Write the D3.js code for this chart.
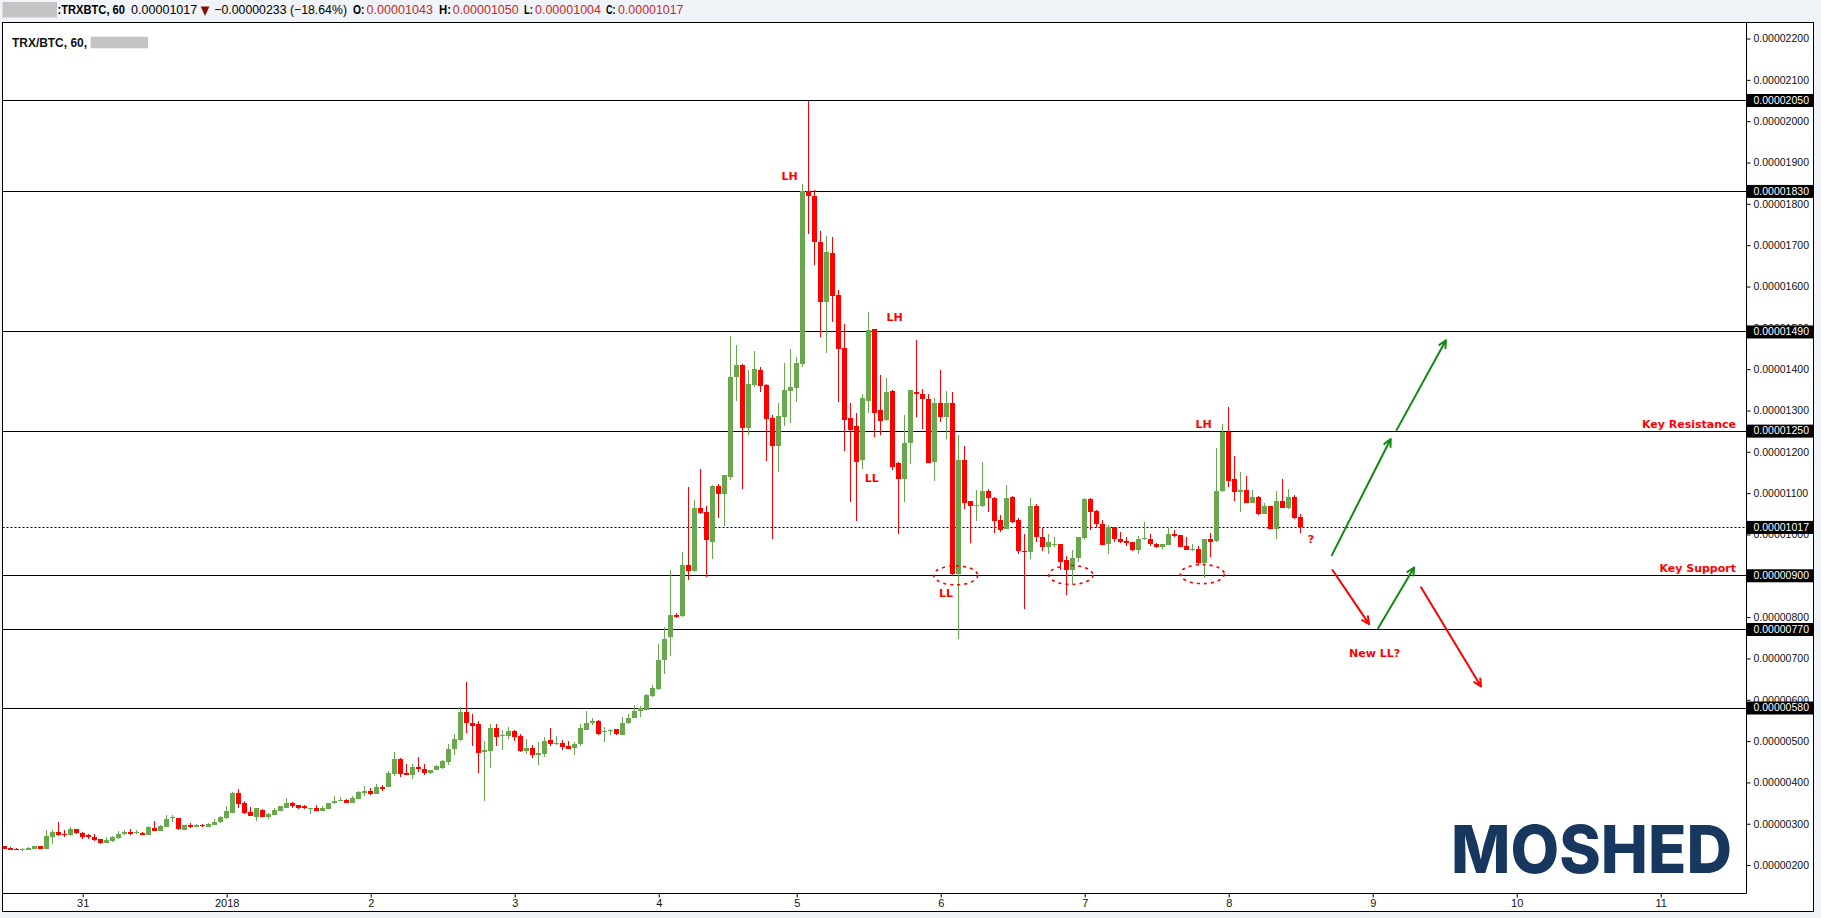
<!DOCTYPE html>
<html><head><meta charset="utf-8">
<script src="https://cdn.jsdelivr.net/npm/d3@7"></script>
<style>
body{margin:0;background:#f0f3f7;}
svg{display:block;}
</style>
</head><body>
<svg id="chart" width="1821" height="918"></svg>
<script>
// Prices are in satoshi units (1e-8 BTC). Hourly TRX/BTC bars, Dec 30 11:00 -> Jan 8 11:00 (one hour missing on Jan 4).
const opens = [245,241,240,237,237,240,246,240,269,280,276,273,287,278,272,269,263,253,258,266,275,280,277,278,273,290,283,293,315,314,285,298,293,298,293,298,303,313,327,375,351,328,317,334,317,320,332,339,349,345,342,337,339,332,336,349,357,358,349,361,374,379,373,390,388,421,457,423,417,438,433,423,430,435,450,480,502,571,544,541,474,477,531,513,513,525,513,476,484,466,468,503,493,496,489,484,492,528,543,549,521,525,529,515,543,557,572,576,610,626,695,751,806,803,925,911,1063,1054,982,1117,1097,1139,1380,1410,1258,1361,1398,1361,1282,1214,1284,1348,1355,1413,1831,1819,1707,1563,1681,1579,1451,1282,1262,1180,1323,1497,1300,1277,1347,1172,1133,1221,1344,1339,1327,1176,1319,1285,1318,905,1179,1080,1070,1068,1104,1088,1034,1013,1090,1034,961,957,1068,995,969,976,976,937,914,943,992,1085,1056,1026,976,1017,990,983,981,962,990,990,977,969,974,1000,998,971,963,964,930,988,983,1104,1249,1133,1103,1107,1076,1090,1049,1069,1014,1080,1064,1090,1043];
const highs = [246,243,241,241,243,247,247,285,285,304,285,292,288,281,275,275,264,268,271,282,285,287,285,280,294,306,297,321,321,315,298,302,299,300,301,311,318,343,378,384,354,340,339,336,325,337,344,363,353,346,345,339,345,342,351,367,364,359,366,380,392,386,396,393,427,474,458,444,444,462,444,431,441,455,492,516,582,642,565,549,500,541,541,527,533,526,517,505,490,497,509,531,513,503,500,497,542,572,555,550,533,530,530,559,565,588,586,615,636,735,776,915,809,957,1115,1084,1159,1070,1119,1121,1145,1479,1459,1412,1397,1444,1405,1365,1290,1318,1415,1449,1429,1849,2050,1833,1735,1723,1720,1592,1509,1319,1295,1339,1538,1498,1387,1379,1349,1176,1289,1349,1471,1351,1339,1330,1397,1347,1345,1241,1213,1081,1107,1175,1109,1090,1048,1119,1092,1039,1000,1087,1074,1015,1002,995,977,947,963,993,1087,1087,1058,1034,1023,1019,1006,994,982,997,1030,1000,980,977,1017,1011,999,993,977,973,988,1004,1209,1268,1308,1189,1150,1141,1108,1092,1076,1070,1104,1133,1109,1095,1050];
const lows = [238,236,237,235,236,239,239,240,251,270,268,271,275,264,264,259,251,253,256,264,272,273,276,272,273,283,283,291,303,285,284,290,292,293,292,297,302,311,327,339,324,318,307,317,312,320,331,339,339,335,336,324,331,331,335,348,355,349,349,360,366,369,373,380,388,416,414,417,409,424,419,420,429,433,443,466,500,520,488,423,355,436,489,479,504,500,474,469,460,441,461,489,491,479,481,466,489,526,540,515,497,514,514,514,542,556,559,575,607,624,663,705,799,801,889,909,1050,897,940,1039,1020,1131,1324,1111,1241,1358,1345,1178,990,1150,1263,1270,1321,1406,1726,1652,1477,1439,1514,1321,1202,1079,1033,1159,1295,1235,1241,1275,1157,1001,1079,1171,1284,1256,1172,1130,1271,1231,900,747,1061,979,1032,1066,1054,1003,1006,1013,1028,953,819,940,981,959,952,969,914,853,880,933,987,1010,1016,974,952,981,979,972,959,953,987,972,967,964,974,994,969,962,961,925,894,945,981,1103,1115,1081,1054,1076,1076,1048,1049,1013,989,1064,1062,1038,1004];
const closes = [240,237,238,240,242,246,240,270,280,272,274,287,278,269,267,261,253,260,268,276,280,275,279,273,291,283,295,312,317,288,297,291,298,294,300,305,317,332,375,348,325,319,337,317,323,334,342,349,343,338,337,338,332,339,350,356,358,349,363,376,380,372,389,384,423,457,421,417,438,432,423,431,439,452,481,506,571,544,537,471,479,531,511,514,525,511,476,484,466,471,501,493,496,486,481,494,531,544,549,517,525,528,518,544,557,572,580,612,629,695,748,806,800,925,911,1063,1052,986,1117,1099,1143,1381,1411,1258,1364,1400,1360,1280,1214,1286,1349,1356,1415,1831,1818,1707,1563,1683,1577,1449,1277,1252,1175,1330,1495,1295,1275,1344,1163,1133,1221,1349,1339,1327,1174,1319,1284,1319,905,1179,1077,1069,1071,1104,1088,1032,1011,1087,1031,959,957,1068,994,969,981,978,934,914,944,993,1085,1054,1025,974,1017,989,981,979,962,990,991,977,969,976,1000,996,969,962,964,930,988,981,1104,1249,1129,1103,1107,1076,1090,1049,1070,1014,1080,1064,1090,1040,1017];

const yTicks = d3.range(200, 2201, 100);
const levelLines = [2050, 1830, 1490, 1250, 900, 770, 580];
const lastPrice = 1017;
const timeTickLabels = ["31","2018","2","3","4","5","6","7","8","9","10","11"];
const timeTickBars = [13,37,61,85,109,132,156,180,204,228,252,276];

// annotations in (bar index, price) space
const textNotes = [
  {t:"LH", i:130.8, p:1867},
  {t:"LH", i:148.3, p:1525},
  {t:"LL", i:144.5, p:1135},
  {t:"LL", i:156.9, p:857},
  {t:"LH", i:199.8, p:1267},
  {t:"?",  i:217.7, p:987},
  {t:"New LL?", i:228.3, p:711}
];
const ellipses = [{i:158.5, p:901},{i:177.7, p:902},{i:199.6, p:904}];
const arrows = [
  {i1:221.2, p1:950, i2:231.0, p2:1231, col:"green"},
  {i1:232.0, p1:1253, i2:240.2, p2:1470, col:"green"},
  {i1:221.3, p1:914, i2:227.4, p2:783, col:"red"},
  {i1:228.9, p1:773, i2:234.9, p2:920, col:"green"},
  {i1:236.05, p1:872, i2:246.05, p2:632, col:"red"}
];
const sideNotes = [{t:"Key Resistance", level:1250},{t:"Key Support", level:900}];

const header = {
  symbol: ":TRXBTC, 60", last: "0.00001017", change: "\u22120.00000233 (\u221218.64%)",
  ohlc: [["O:","0.00001043"],["H:","0.00001050"],["L:","0.00001004"],["C:","0.00001017"]]
};

// ---------- layout ----------
const W = 1821, Hh = 918;
const paneL = 2.5, paneT = 22.5, paneR = 1746.5, paneB = 893.5, frameR = 1813.5, frameB = 911.5;
const svg = d3.select("#chart");
const AX = "'Liberation Sans', Arial, sans-serif";

svg.append("rect").attr("x",0).attr("y",0).attr("width",W).attr("height",Hh).attr("fill","#f0f3f7");
svg.append("rect").attr("x",paneL).attr("y",paneT).attr("width",frameR-paneL).attr("height",frameB-paneT)
  .attr("fill","#fff").attr("stroke","#000").attr("stroke-width",1);

const x = d3.scaleLinear().domain([0, 290]).range([4.7, 4.7 + 6*290]);
const y = d3.scaleLinear().domain([132.4, 2240]).range([893, 22]);
const snap = v => Math.round(v) + 0.5;

svg.append("clipPath").attr("id","pane").append("rect")
  .attr("x",paneL).attr("y",paneT).attr("width",paneR-paneL).attr("height",paneB-paneT);
const g = svg.append("g").attr("clip-path","url(#pane)");

// level lines
g.selectAll(".lvl").data(levelLines).enter().append("line")
  .attr("x1",paneL).attr("x2",paneR).attr("y1",d=>snap(y(d)-0.5)).attr("y2",d=>snap(y(d)-0.5))
  .attr("stroke","#000").attr("stroke-width",1);
g.append("line").attr("x1",paneL).attr("x2",paneR)
  .attr("y1",snap(y(lastPrice)-0.5)).attr("y2",snap(y(lastPrice)-0.5))
  .attr("stroke","#000").attr("stroke-width",1).attr("stroke-dasharray","2,2");

// candles
const UP = "#6aa84f", DOWN = "#ff0000";
const bars = d3.range(opens.length).map(i => ({i, o:opens[i], h:highs[i], l:lows[i], c:closes[i]}));
const cg = g.append("g");
bars.forEach(b => {
  const col = b.c >= b.o ? UP : DOWN;
  const left = Math.round(x(b.i) - 2.5);
  const hi = Math.max(b.h, b.o, b.c), lo = Math.min(b.l, b.o, b.c);
  cg.append("line").attr("x1",left+2.5).attr("x2",left+2.5)
    .attr("y1",Math.round(y(hi))).attr("y2",Math.round(y(lo)))
    .attr("stroke",col).attr("stroke-width",1);
  const top = Math.round(y(Math.max(b.o,b.c)));
  const bot = Math.round(y(Math.min(b.o,b.c)));
  cg.append("rect").attr("x",left).attr("y",top).attr("width",5).attr("height",Math.max(1,bot-top))
    .attr("fill",col);
});

// annotations
const RED = "#ff0000", GREEN = "#118a11";
const AF = "'DejaVu Sans', Verdana, sans-serif";
g.selectAll(".note").data(textNotes).enter().append("text")
  .attr("x",d=>x(d.i)).attr("y",d=>y(d.p)).attr("text-anchor","middle").attr("dominant-baseline","central")
  .attr("font-family",AF).attr("font-weight","bold").attr("font-size",11).attr("fill",RED).text(d=>d.t);
g.selectAll(".side").data(sideNotes).enter().append("text")
  .attr("x",paneR-10.5).attr("y",d=>y(d.level)-3.5).attr("text-anchor","end")
  .attr("font-family",AF).attr("font-weight","bold").attr("font-size",11).attr("fill",RED).text(d=>d.t);
g.selectAll(".ell").data(ellipses).enter().append("ellipse")
  .attr("cx",d=>x(d.i)).attr("cy",d=>y(d.p)).attr("rx",22).attr("ry",9.5)
  .attr("fill","none").attr("stroke",RED).attr("stroke-width",1.6).attr("stroke-dasharray","3,4");
arrows.forEach(a => {
  const x1 = x(a.i1), y1 = y(a.p1), x2 = x(a.i2), y2 = y(a.p2);
  const col = a.col === "green" ? GREEN : RED;
  const ang = Math.atan2(y2-y1, x2-x1), hl = 8, spread = 0.45;
  const hx1 = x2 - hl*Math.cos(ang-spread), hy1 = y2 - hl*Math.sin(ang-spread);
  const hx2 = x2 - hl*Math.cos(ang+spread), hy2 = y2 - hl*Math.sin(ang+spread);
  g.append("path").attr("d",`M${x1},${y1}L${x2},${y2}M${hx1},${hy1}L${x2},${y2}L${hx2},${hy2}`)
    .attr("fill","none").attr("stroke",col).attr("stroke-width",2).attr("stroke-linecap","round").attr("stroke-linejoin","round");
});

// logo
g.append("text").attr("x",1451).attr("y",872.5).attr("font-family","Inter, Lato, sans-serif")
  .attr("font-weight",800).attr("font-size",66).attr("fill","#17375e")
  .attr("textLength",281).attr("lengthAdjust","spacingAndGlyphs").text("MOSHED");

// pane borders
svg.append("line").attr("x1",paneR).attr("x2",paneR).attr("y1",paneT).attr("y2",paneB).attr("stroke","#000");
svg.append("line").attr("x1",paneL).attr("x2",paneR).attr("y1",paneB).attr("y2",paneB).attr("stroke","#000");

// y axis
const fmt = v => (v*1e-8).toFixed(8);
const ya = svg.append("g").attr("transform",`translate(${paneR},0)`)
  .call(d3.axisRight(y).tickValues(yTicks).tickSize(4).tickPadding(3).tickFormat(fmt));
ya.select(".domain").remove();
ya.selectAll("text").attr("font-family",AX).attr("font-size",10.5).attr("fill","#111");
ya.selectAll("line").attr("stroke","#000");

const boxes = svg.append("g");
[...levelLines, lastPrice].forEach(v => {
  const cy = y(v);
  boxes.append("rect").attr("x",paneR).attr("y",cy-6.5).attr("width",frameR-paneR-0.5).attr("height",13).attr("fill","#000");
  boxes.append("text").attr("x",paneR+7).attr("y",cy).attr("dy","0.32em").attr("font-family",AX)
    .attr("font-size",10.5).attr("fill","#fff").text(fmt(v));
});

// x axis
const xa = svg.append("g").attr("transform",`translate(0,${paneB})`)
  .call(d3.axisBottom(x).tickValues(timeTickBars).tickSize(4).tickPadding(2)
    .tickFormat((d,i)=>timeTickLabels[i]));
xa.select(".domain").remove();
xa.selectAll("text").attr("font-family",AX).attr("font-size",11).attr("fill","#111");
xa.selectAll("line").attr("stroke","#000");

// header
const HF = "'Liberation Sans', Arial, sans-serif";
svg.append("rect").attr("x",2.5).attr("y",2).attr("width",54.5).attr("height",15.5).attr("fill","#c4c4c4");
const hdr = (xp, w, t, fill, bold) => svg.append("text").attr("x",xp).attr("y",14.3)
  .attr("font-family",HF).attr("font-size",12.5).attr("font-weight",bold?"bold":"normal").attr("fill",fill)
  .attr("textLength",w).attr("lengthAdjust","spacingAndGlyphs").text(t);
hdr(57.5, 67.5, header.symbol, "#000", true);
hdr(131, 66.3, header.last, "#000", false);
svg.append("path").attr("d","M200.7,6.5L209.4,6.5L205,16Z").attr("fill","#8b0a0a");
hdr(214.3, 132.7, header.change, "#000", false);
const ohlcX = [[353,11.5,366.5,66.4],[439,12,452.7,66],[524,9,535,66],[606,9.6,618,65.5]];
header.ohlc.forEach((p,k) => {
  hdr(ohlcX[k][0], ohlcX[k][1], p[0], "#000", true);
  hdr(ohlcX[k][2], ohlcX[k][3], p[1], "#c62828", false);
});

svg.append("text").attr("x",12).attr("y",46.5).attr("font-family",HF).attr("font-size",12.5)
  .attr("font-weight","bold").attr("fill","#111").attr("textLength",75).attr("lengthAdjust","spacingAndGlyphs")
  .text("TRX/BTC, 60,");
svg.append("rect").attr("x",90.6).attr("y",36.7).attr("width",57.5).attr("height",11.6).attr("fill","#c4c4c4");
</script>
</body></html>
